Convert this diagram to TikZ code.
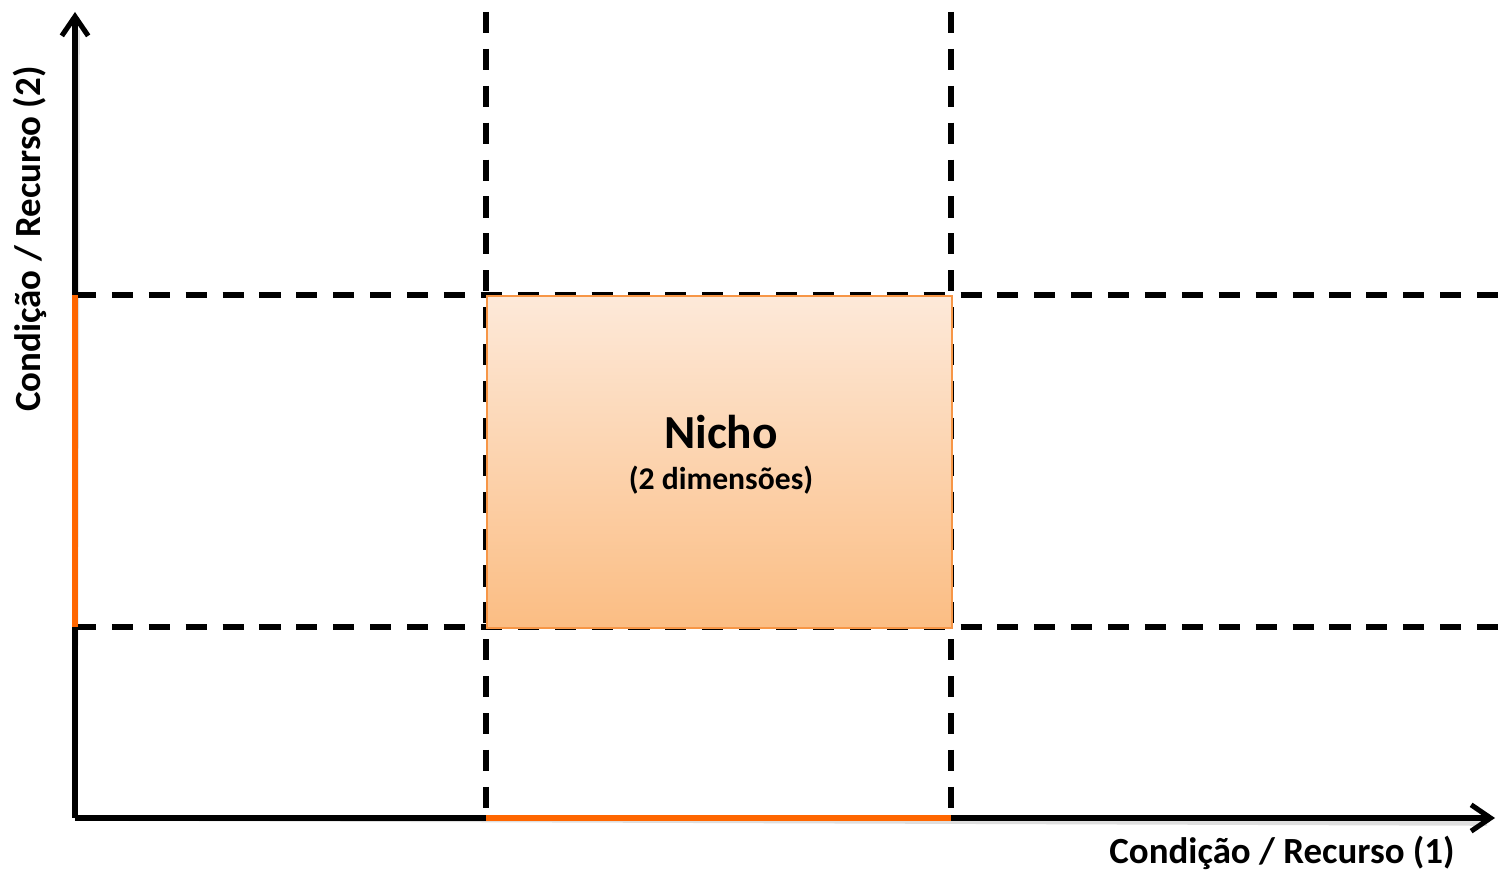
\documentclass[tikz,border=0pt]{standalone}
\usepackage{fontspec}
\setmainfont{Carlito}
\usetikzlibrary{arrows.meta}
\definecolor{axisorange}{HTML}{FF6600}
\definecolor{boxedge}{HTML}{F79646}
\definecolor{boxtop}{HTML}{FDE9D9}
\definecolor{boxbottom}{HTML}{FBBD83}
\tikzset{
  axisline/.style={line width=2.9pt, -{Straight Barb[length=11pt,width=15pt,line width=2.9pt]}},
  guide/.style={line width=2.9pt, dash pattern=on 12pt off 9pt},
  shadowline/.style={line width=3.2pt, black, opacity=0.13},
  rangeline/.style={line width=2.9pt, axisorange},
  lbl/.style={font=\bfseries, inner sep=0pt},
}
\begin{document}
\begin{tikzpicture}[x=0.02cm,y=-0.02cm]
\useasboundingbox (0,0) rectangle (1499,874);

% anchor points
\coordinate (o) at (75,818);
\coordinate (ytop) at (75,12);
\coordinate (xend) at (1495,818);
\coordinate (lo) at (75,627);
\coordinate (hi) at (75,295);
\coordinate (loR) at (1499,627);
\coordinate (hiR) at (1499,295);
\coordinate (aT) at (486,12);
\coordinate (aB) at (486,818);
\coordinate (bT) at (951,12);
\coordinate (bB) at (951,818);

% soft shadows under the guide lines
\begin{scope}[shift={(2,5)}]
  \draw[shadowline, dash pattern=on 12pt off 9pt] (hi) -- (hiR);
  \draw[shadowline, dash pattern=on 12pt off 9pt] (lo) -- (loR);
  \draw[shadowline, dash pattern=on 12pt off 9pt] (aT) -- (aB);
  \draw[shadowline, dash pattern=on 12pt off 9pt] (bT) -- (bB);
  \draw[shadowline] (o) -- (1485,818);
  \draw[shadowline] (o) -- (75,25);
\end{scope}

% dashed guides
\draw[guide] (hi) -- (hiR);
\draw[guide] (lo) -- (loR);
\draw[guide] (aT) -- (aB);
\draw[guide] (bT) -- (bB);

% niche rectangle
\node[draw=boxedge, line width=0.9pt, top color=boxtop, bottom color=boxbottom,
      minimum width=465*0.02cm, minimum height=332*0.02cm, inner sep=0pt,
      anchor=north west] (nicho) at (486,295) {};
\node[lbl, font=\bfseries\fontsize{27}{30}\selectfont] (title) at (721,432) {Nicho};
\node[lbl, font=\bfseries\fontsize{18}{21}\selectfont] (sub) at (721,480) {(2 dimensões)};

% axes
\draw[axisline, line cap=butt] (o) -- (ytop);
\draw[axisline, line cap=butt] (o) -- (xend);

% ranges on the axes
\draw[rangeline] (hi) -- (lo);
\draw[rangeline] (aB) -- (bB);

% axis labels
\node[lbl, font=\bfseries\fontsize{21}{24}\selectfont, rotate=90] (ylab) at (30,239) {Condição / Recurso (2)};
\node[lbl, font=\bfseries\fontsize{21}{24}\selectfont] (xlab) at (1282,853) {Condição / Recurso (1)};
\end{tikzpicture}
\end{document}
